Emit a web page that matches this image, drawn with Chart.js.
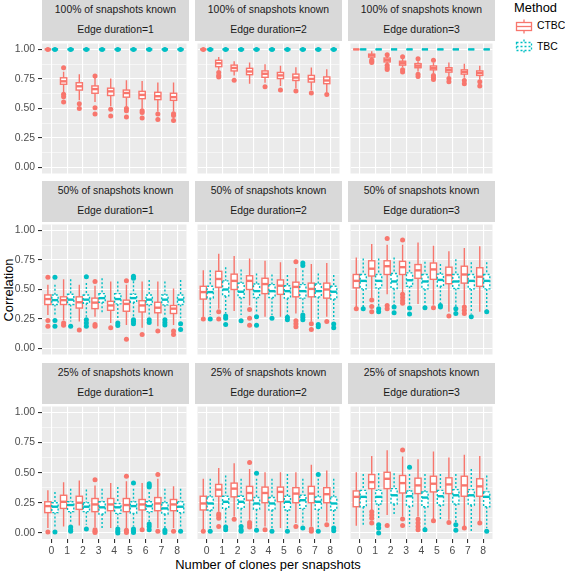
<!DOCTYPE html>
<html>
<head>
<meta charset="utf-8">
<script src="https://cdn.jsdelivr.net/npm/chart.js@4.4.1/dist/chart.umd.min.js"></script>
<style>
    html, body { margin: 0; padding: 0; background: #fff; }
    #fig { position: relative; width: 565px; height: 571px; overflow: hidden; font-family: 'Liberation Sans', Arial, sans-serif; }
    .strip { position: absolute; background: #D9D9D9; color: #1A1A1A; font-size: 10.4px; }
    .strip div { position: absolute; left: 0; right: 0; text-align: center; line-height: 12px; white-space: nowrap; }
    canvas { position: absolute; }
    .title { position: absolute; font-size: 12.9px; color: #000; white-space: nowrap; }
    .legend-label { position: absolute; font-size: 10.4px; color: #000; line-height: 12px; }
    .legend-key { position: absolute; }
</style>
</head>
<body>
<div id="fig">
    <div class="title" style="left:268px; top:564px; transform:translate(-50%,-50%);">Number of clones per snapshots</div>
    <div class="title" style="left:8px; top:290px; transform:translate(-50%,-50%) rotate(-90deg);">Correlation</div>
    <div class="title" style="left:514px; top:0px;">Method</div>
    <svg class="legend-key" style="left:515px; top:18px;" width="18" height="17">
        <line x1="9" y1="1.5" x2="9" y2="4.5" stroke="#F8766D" stroke-width="1.3"/>
        <line x1="9" y1="12.5" x2="9" y2="15.5" stroke="#F8766D" stroke-width="1.3"/>
        <rect x="1.5" y="4.5" width="15" height="8" fill="#fff" stroke="#F8766D" stroke-width="1.3"/>
        <line x1="1.5" y1="8.5" x2="16.5" y2="8.5" stroke="#F8766D" stroke-width="1.3"/>
    </svg>
    <div class="legend-label" style="left:537px; top:20px;">CTBC</div>
    <svg class="legend-key" style="left:515px; top:38px;" width="18" height="17">
        <line x1="9" y1="1.5" x2="9" y2="4.5" stroke="#00BFC4" stroke-width="1.3" stroke-dasharray="2,2"/>
        <line x1="9" y1="12.5" x2="9" y2="15.5" stroke="#00BFC4" stroke-width="1.3" stroke-dasharray="2,2"/>
        <rect x="1.5" y="4.5" width="15" height="8" fill="#fff" stroke="#00BFC4" stroke-width="1.3" stroke-dasharray="2,2"/>
        <line x1="1.5" y1="8.5" x2="16.5" y2="8.5" stroke="#00BFC4" stroke-width="1.3" stroke-dasharray="2,2"/>
    </svg>
    <div class="legend-label" style="left:537px; top:41px;">TBC</div>
</div>
<script>
const clones = [0, 1, 2, 3, 4, 5, 6, 7, 8];
const yTicks = [0, 0.25, 0.5, 0.75, 1];
const knownLabels = ['100% of snapshots known', '50% of snapshots known', '25% of snapshots known'];
const durationLabels = ['Edge duration=1', 'Edge duration=2', 'Edge duration=3'];
const methods = ['CTBC', 'TBC'];
const methodColors = ['#F8766D', '#00BFC4'];

// each box: [lower whisker, q1, median, q3, upper whisker], one per clone count
const ctbc_100_1 = [[1, 1, 1, 1, 1], [0.64, 0.705, 0.73, 0.76, 0.81], [0.57, 0.656, 0.688, 0.718, 0.79], [0.556, 0.629, 0.664, 0.691, 0.76], [0.52, 0.61, 0.645, 0.672, 0.753], [0.515, 0.596, 0.631, 0.656, 0.74], [0.5, 0.583, 0.615, 0.645, 0.732], [0.474, 0.575, 0.604, 0.637, 0.72], [0.474, 0.569, 0.596, 0.629, 0.72]];
const ctbcOut_100_1 = [[1], [0.845, 0.62, 0.6, 0.555], [0.54, 0.5], [0.775, 0.507, 0.453], [0.493, 0.436], [0.499, 0.48, 0.428], [0.482, 0.466, 0.42], [0.453, 0.406], [0.455, 0.44, 0.398]];
const tbc_100_1 = [[1, 1, 1, 1, 1], [1, 1, 1, 1, 1], [1, 1, 1, 1, 1], [1, 1, 1, 1, 1], [1, 1, 1, 1, 1], [1, 1, 1, 1, 1], [1, 1, 1, 1, 1], [1, 1, 1, 1, 1], [1, 1, 1, 1, 1]];
const tbcOut_100_1 = [[1], [1], [1], [1], [1], [1], [1], [1], [1]];

const ctbc_100_2 = [[1, 1, 1, 1, 1], [0.827, 0.854, 0.883, 0.908, 0.935], [0.78, 0.818, 0.843, 0.867, 0.9], [0.71, 0.786, 0.813, 0.84, 0.89], [0.718, 0.764, 0.794, 0.818, 0.875], [0.69, 0.753, 0.78, 0.805, 0.862], [0.672, 0.737, 0.762, 0.791, 0.85], [0.656, 0.724, 0.75, 0.78, 0.846], [0.637, 0.71, 0.737, 0.767, 0.832]];
const ctbcOut_100_2 = [[1], [0.805, 0.78, 0.767], [0.74], [], [0.683], [0.656], [0.648], [0.631], [0.618]];
const tbc_100_2 = [[1, 1, 1, 1, 1], [1, 1, 1, 1, 1], [1, 1, 1, 1, 1], [1, 1, 1, 1, 1], [1, 1, 1, 1, 1], [1, 1, 1, 1, 1], [1, 1, 1, 1, 1], [1, 1, 1, 1, 1], [1, 1, 1, 1, 1]];
const tbcOut_100_2 = [[1], [1], [1], [1], [1], [1], [1], [1], [1]];

const ctbc_100_3 = [[1, 1, 1, 1, 1], [0.92, 0.935, 0.95, 0.96, 0.985], [0.88, 0.894, 0.91, 0.927, 0.943], [0.85, 0.867, 0.883, 0.9, 0.92], [0.813, 0.845, 0.862, 0.88, 0.9], [0.8, 0.827, 0.843, 0.86, 0.89], [0.772, 0.808, 0.827, 0.845, 0.89], [0.76, 0.791, 0.81, 0.827, 0.878], [0.745, 0.78, 0.8, 0.818, 0.862]];
const ctbcOut_100_3 = [[], [0.91, 0.9, 0.89], [0.955, 0.867, 0.845, 0.83], [0.938, 0.827, 0.808], [0.92, 0.79, 0.77], [0.908, 0.78, 0.764, 0.745], [0.753, 0.726], [0.737, 0.71], [0.726, 0.69]];
const tbc_100_3 = [[1, 1, 1, 1, 1], [1, 1, 1, 1, 1], [1, 1, 1, 1, 1], [1, 1, 1, 1, 1], [1, 1, 1, 1, 1], [1, 1, 1, 1, 1], [1, 1, 1, 1, 1], [1, 1, 1, 1, 1], [1, 1, 1, 1, 1]];
const tbcOut_100_3 = [[], [], [], [], [], [], [], [], []];

const ctbc_50_1 = [[0.284, 0.373, 0.419, 0.454, 0.54], [0.24, 0.373, 0.41, 0.438, 0.586], [0.23, 0.343, 0.392, 0.438, 0.54], [0.27, 0.338, 0.389, 0.427, 0.532], [0.216, 0.324, 0.365, 0.4, 0.568], [0.2, 0.316, 0.378, 0.41, 0.54], [0.176, 0.31, 0.365, 0.405, 0.568], [0.19, 0.303, 0.346, 0.392, 0.568], [0.2, 0.297, 0.338, 0.365, 0.508]];
const ctbcOut_50_1 = [[0.603, 0.238, 0.19], [0.216, 0.197], [0.157], [0.568, 0.203, 0.19], [0.176], [0.573, 0.08], [0.12], [0.149], [0.149, 0.12]];
const tbc_50_1 = [[0.284, 0.373, 0.41, 0.454, 0.54], [0.23, 0.373, 0.414, 0.46, 0.586], [0.27, 0.384, 0.414, 0.454, 0.554], [0.297, 0.392, 0.427, 0.465, 0.595], [0.243, 0.378, 0.419, 0.465, 0.568], [0.27, 0.392, 0.427, 0.46, 0.57], [0.27, 0.373, 0.414, 0.454, 0.58], [0.27, 0.37, 0.414, 0.454, 0.568], [0.257, 0.373, 0.414, 0.454, 0.58]];
const tbcOut_50_1 = [[0.603, 0.238, 0.19], [0.19], [0.608, 0.243, 0.216, 0.19], [], [0.216, 0.195], [0.613, 0.595, 0.243, 0.23, 0.21], [0.243, 0.22], [0.243, 0.22, 0.2], [0.21, 0.162]];

const ctbc_50_2 = [[0.27, 0.419, 0.478, 0.527, 0.662], [0.338, 0.519, 0.589, 0.654, 0.803], [0.319, 0.5, 0.573, 0.63, 0.784], [0.365, 0.5, 0.573, 0.616, 0.762], [0.27, 0.465, 0.546, 0.595, 0.743], [0.27, 0.459, 0.532, 0.581, 0.73], [0.297, 0.438, 0.522, 0.562, 0.681], [0.23, 0.438, 0.505, 0.554, 0.716], [0.27, 0.427, 0.5, 0.554, 0.724]];
const ctbcOut_50_2 = [[0.251], [0.311, 0.251], [], [0.33, 0.257, 0.197], [], [], [0.735, 0.235, 0.211, 0.184], [0.211, 0.162], [0.23]];
const tbc_50_2 = [[0.284, 0.427, 0.478, 0.527, 0.662], [0.297, 0.446, 0.5, 0.573, 0.689], [0.284, 0.432, 0.481, 0.554, 0.67], [0.297, 0.432, 0.486, 0.546, 0.635], [0.284, 0.432, 0.486, 0.541, 0.627], [0.284, 0.427, 0.486, 0.532, 0.622], [0.297, 0.427, 0.486, 0.541, 0.662], [0.243, 0.438, 0.486, 0.546, 0.635], [0.243, 0.419, 0.481, 0.527, 0.622]];
const tbcOut_50_2 = [[0.251], [0.276, 0.257, 0.203], [0.235], [0.27, 0.197], [0.257], [0.265, 0.243], [0.724, 0.703, 0.284, 0.265, 0.243], [0.203, 0.184], [0.208, 0.176]];

const ctbc_50_3 = [[0.351, 0.514, 0.573, 0.627, 0.77], [0.43, 0.614, 0.676, 0.743, 0.884], [0.459, 0.627, 0.697, 0.743, 0.878], [0.47, 0.627, 0.689, 0.738, 0.878], [0.378, 0.595, 0.662, 0.711, 0.897], [0.37, 0.586, 0.67, 0.724, 0.87], [0.311, 0.549, 0.622, 0.689, 0.824], [0.37, 0.554, 0.627, 0.697, 0.851], [0.311, 0.527, 0.608, 0.684, 0.865]];
const ctbcOut_50_3 = [[0.338], [0.411, 0.357, 0.311], [0.932, 0.365, 0.338], [0.919, 0.459, 0.432, 0.405, 0.384], [], [0.346], [0.276], [0.351, 0.324, 0.297], []];
const tbc_50_3 = [[0.351, 0.505, 0.573, 0.627, 0.762], [0.351, 0.514, 0.573, 0.627, 0.762], [0.365, 0.508, 0.568, 0.635, 0.77], [0.365, 0.527, 0.578, 0.641, 0.735], [0.365, 0.505, 0.568, 0.627, 0.735], [0.378, 0.527, 0.581, 0.63, 0.716], [0.351, 0.508, 0.568, 0.627, 0.757], [0.297, 0.505, 0.573, 0.627, 0.73], [0.33, 0.505, 0.573, 0.627, 0.73]];
const tbcOut_50_3 = [[0.338], [0.338, 0.311], [0.351, 0.303], [0.343, 0.292], [0.346], [0.365, 0.351], [0.338, 0.297], [0.27], [0.311]];

const ctbc_25_1 = [[0.041, 0.169, 0.223, 0.259, 0.354], [0.054, 0.204, 0.259, 0.313, 0.422], [0.063, 0.196, 0.251, 0.305, 0.436], [0.05, 0.177, 0.237, 0.286, 0.395], [0.041, 0.185, 0.237, 0.286, 0.414], [0.041, 0.177, 0.232, 0.286, 0.43], [0.041, 0.191, 0.237, 0.278, 0.414], [0.041, 0.185, 0.245, 0.294, 0.45], [0.041, 0.185, 0.237, 0.278, 0.387]];
const ctbcOut_25_1 = [[0.008], [], [], [0.441, 0.027, 0.014, 0.005], [], [0.471, 0.022, 0.005], [0.027], [0.485, 0.014], [0.014]];
const tbc_25_1 = [[0.041, 0.169, 0.218, 0.251, 0.341], [0.082, 0.177, 0.232, 0.259, 0.368], [0.068, 0.177, 0.218, 0.251, 0.36], [0.041, 0.158, 0.213, 0.259, 0.368], [0.054, 0.163, 0.213, 0.245, 0.381], [0.054, 0.163, 0.223, 0.259, 0.368], [0.095, 0.177, 0.223, 0.259, 0.341], [0.041, 0.158, 0.204, 0.251, 0.368], [0.041, 0.169, 0.218, 0.259, 0.368]];
const tbcOut_25_1 = [[0.008], [0.049, 0.027, 0.014], [0.033], [], [0.033, 0.014, 0.0], [0.414, 0.033, 0.019, 0.005], [0.409, 0.395, 0.381, 0.074, 0.054, 0.027], [0.022, 0.005], [0.014]];

const ctbc_25_2 = [[0.027, 0.191, 0.245, 0.305, 0.45], [0.177, 0.305, 0.36, 0.403, 0.54], [0.136, 0.3, 0.368, 0.414, 0.578], [0.109, 0.272, 0.332, 0.387, 0.531], [0.054, 0.251, 0.332, 0.381, 0.504], [0.041, 0.259, 0.341, 0.381, 0.504], [0.082, 0.251, 0.327, 0.376, 0.504], [0.054, 0.251, 0.327, 0.387, 0.567], [0.095, 0.251, 0.322, 0.376, 0.518]];
const ctbcOut_25_2 = [[0.014], [0.158, 0.142, 0.123, 0.054], [0.114], [0.586, 0.087, 0.068, 0.049], [0.027], [], [0.054], [0.033, 0.014], [0.068]];
const tbc_25_2 = [[0.027, 0.191, 0.245, 0.3, 0.45], [0.068, 0.204, 0.259, 0.305, 0.477], [0.068, 0.204, 0.259, 0.305, 0.45], [0.054, 0.196, 0.245, 0.294, 0.45], [0.041, 0.191, 0.245, 0.294, 0.45], [0.041, 0.191, 0.259, 0.305, 0.49], [0.068, 0.204, 0.272, 0.313, 0.45], [0.041, 0.196, 0.259, 0.3, 0.45], [0.068, 0.191, 0.245, 0.3, 0.45]];
const tbcOut_25_2 = [[0.014], [0.049, 0.027], [0.054, 0.027, 0.014], [0.496, 0.022], [0.014], [0.014], [0.041], [0.485, 0.014], [0.041, 0.019]];

const ctbc_25_3 = [[0.06, 0.218, 0.3, 0.349, 0.504], [0.19, 0.368, 0.422, 0.485, 0.64], [0.15, 0.368, 0.45, 0.504, 0.687], [0.136, 0.332, 0.414, 0.477, 0.635], [0.136, 0.327, 0.395, 0.455, 0.613], [0.109, 0.341, 0.409, 0.471, 0.676], [0.109, 0.327, 0.403, 0.458, 0.627], [0.054, 0.305, 0.395, 0.471, 0.649], [0.095, 0.305, 0.387, 0.45, 0.64]];
const ctbcOut_25_3 = [[], [0.177, 0.15, 0.123, 0.082], [0.063], [0.689, 0.117, 0.063], [0.114, 0.082, 0.054, 0.027], [0.101], [0.087], [0.041], [0.082]];
const tbc_25_3 = [[0.068, 0.218, 0.3, 0.354, 0.49], [0.109, 0.24, 0.3, 0.354, 0.496], [0.15, 0.24, 0.313, 0.368, 0.496], [0.054, 0.223, 0.305, 0.349, 0.49], [0.041, 0.218, 0.294, 0.341, 0.49], [0.109, 0.232, 0.305, 0.354, 0.49], [0.082, 0.24, 0.313, 0.36, 0.49], [0.005, 0.232, 0.313, 0.36, 0.531], [0.041, 0.218, 0.3, 0.341, 0.477]];
const tbcOut_25_3 = [[], [0.068, 0.041, 0.0], [], [0.545], [0.027], [], [0.068, 0.022], [], [0.014]];

// panels in reading order: rows = share of snapshots known, cols = edge duration
const panelData = [
    [[ctbc_100_1, ctbcOut_100_1, tbc_100_1, tbcOut_100_1], [ctbc_100_2, ctbcOut_100_2, tbc_100_2, tbcOut_100_2], [ctbc_100_3, ctbcOut_100_3, tbc_100_3, tbcOut_100_3]],
    [[ctbc_50_1, ctbcOut_50_1, tbc_50_1, tbcOut_50_1], [ctbc_50_2, ctbcOut_50_2, tbc_50_2, tbcOut_50_2], [ctbc_50_3, ctbcOut_50_3, tbc_50_3, tbcOut_50_3]],
    [[ctbc_25_1, ctbcOut_25_1, tbc_25_1, tbcOut_25_1], [ctbc_25_2, ctbcOut_25_2, tbc_25_2, tbcOut_25_2], [ctbc_25_3, ctbcOut_25_3, tbc_25_3, tbcOut_25_3]]
];

// layout of the facet grid (px)
const colLeft = [42, 195, 348];
const rowTop = [0, 181, 363];
const stripH = 41;
const plotW = 147;
const plotH = 135;
const axisW = 42;
const axisH = 20;
const dodge = 0.225;
const boxHalf = 0.2;

const yGrid = [];
yTicks.forEach((v, i) => {
    yGrid.push(v);
    if (i < yTicks.length - 1) yGrid.push((v + yTicks[i + 1]) / 2);
});

const fig = document.getElementById('fig');

for (let r = 0; r < 3; r++) {
    for (let c = 0; c < 3; c++) {
        addStrip(r, c);
        createPanel(r, c);
    }
}

function addStrip(r, c) {
    const strip = document.createElement('div');
    strip.className = 'strip';
    strip.style.left = colLeft[c] + 'px';
    strip.style.top = rowTop[r] + 'px';
    strip.style.width = plotW + 'px';
    strip.style.height = stripH + 'px';
    strip.innerHTML = `<div style="top:4px">${knownLabels[r]}</div><div style="top:24px">${durationLabels[c]}</div>`;
    fig.appendChild(strip);
}

function outlierPoints(outs, offset) {
    const pts = [];
    outs.forEach((vals, i) => vals.forEach(v => pts.push({ x: clones[i] + offset, y: v })));
    return pts;
}

function boxPlugin(series) {
    return {
        id: 'boxes',
        beforeDraw(chart) {
            const a = chart.chartArea;
            chart.ctx.save();
            chart.ctx.fillStyle = '#EBEBEB';
            chart.ctx.fillRect(a.left, a.top, a.right - a.left, a.bottom - a.top);
            chart.ctx.restore();
        },
        beforeDatasetsDraw(chart) {
            const { ctx, scales: { x, y } } = chart;
            const half = x.getPixelForValue(boxHalf) - x.getPixelForValue(0);
            ctx.save();
            series.forEach((boxes, m) => {
                const off = m === 0 ? -dodge : dodge;
                ctx.strokeStyle = methodColors[m];
                boxes.forEach((b, i) => {
                    const cx = x.getPixelForValue(clones[i] + off);
                    const [lo, q1, med, q3, hi] = b.map(v => y.getPixelForValue(v));
                    ctx.lineWidth = 1.4;
                    ctx.setLineDash(m === 1 ? [2, 2] : []);
                    ctx.beginPath();
                    ctx.moveTo(cx, hi); ctx.lineTo(cx, q3);
                    ctx.moveTo(cx, q1); ctx.lineTo(cx, lo);
                    ctx.stroke();
                    ctx.fillStyle = '#fff';
                    ctx.fillRect(cx - half, q3, 2 * half, q1 - q3);
                    ctx.strokeRect(cx - half, q3, 2 * half, q1 - q3);
                    ctx.setLineDash([]);
                    ctx.lineWidth = 2.4;
                    ctx.beginPath();
                    ctx.moveTo(cx - half, med); ctx.lineTo(cx + half, med);
                    ctx.stroke();
                });
            });
            ctx.restore();
        }
    };
}

function createPanel(r, c) {
    const [ctbc, ctbcOut, tbc, tbcOut] = panelData[r][c];
    const left = c === 0;
    const bottom = r === 2;
    const canvas = document.createElement('canvas');
    const w = plotW + (left ? axisW : 0);
    const h = plotH + (bottom ? axisH : 0);
    canvas.width = w;
    canvas.height = h;
    canvas.style.left = (colLeft[c] - (left ? axisW : 0)) + 'px';
    canvas.style.top = (rowTop[r] + stripH) + 'px';
    canvas.style.width = w + 'px';
    canvas.style.height = h + 'px';
    fig.appendChild(canvas);

    const tickFont = { family: "'Liberation Sans', Arial, sans-serif", size: 10.4 };

    new Chart(canvas.getContext('2d'), {
        type: 'scatter',
        data: {
            datasets: [
                {
                    label: methods[0],
                    data: outlierPoints(ctbcOut, -dodge),
                    backgroundColor: methodColors[0],
                    pointRadius: 2.5,
                    pointBorderWidth: 0,
                    pointHoverRadius: 2.5
                },
                {
                    label: methods[1],
                    data: outlierPoints(tbcOut, dodge),
                    backgroundColor: methodColors[1],
                    pointRadius: 2.5,
                    pointBorderWidth: 0,
                    pointHoverRadius: 2.5
                }
            ]
        },
        options: {
            responsive: false,
            animation: false,
            events: [],
            layout: { padding: 0 },
            plugins: {
                legend: { display: false },
                tooltip: { enabled: false }
            },
            scales: {
                x: {
                    type: 'linear',
                    min: -0.6,
                    max: 8.6,
                    afterBuildTicks: s => { s.ticks = clones.map(v => ({ value: v })); },
                    afterFit: s => {
                        s.height = bottom ? axisH : 0;
                        s.paddingLeft = 0; s.paddingRight = 0; s.paddingTop = 0; s.paddingBottom = 0;
                    },
                    border: { display: false },
                    grid: {
                        color: '#FFFFFF',
                        lineWidth: 1.1,
                        drawTicks: bottom,
                        tickLength: 4,
                        tickColor: '#333333',
                        tickWidth: 1.1
                    },
                    ticks: {
                        display: bottom,
                        padding: 2,
                        color: '#4D4D4D',
                        font: tickFont,
                        maxRotation: 0,
                        autoSkip: false,
                        callback: v => String(v)
                    }
                },
                y: {
                    min: -0.05,
                    max: 1.05,
                    afterBuildTicks: s => { s.ticks = yGrid.map(v => ({ value: v })); },
                    afterFit: s => {
                        s.width = left ? axisW : 0;
                        s.paddingLeft = 0; s.paddingRight = 0; s.paddingTop = 0; s.paddingBottom = 0;
                    },
                    border: { display: false },
                    grid: {
                        color: '#FFFFFF',
                        lineWidth: ctx => yTicks.includes(ctx.tick.value) ? 1.1 : 0.55,
                        drawTicks: left,
                        tickLength: 4,
                        tickColor: ctx => yTicks.includes(ctx.tick.value) ? '#333333' : 'rgba(0,0,0,0)',
                        tickWidth: 1.1
                    },
                    ticks: {
                        display: left,
                        padding: 3,
                        color: '#4D4D4D',
                        font: tickFont,
                        autoSkip: false,
                        callback: v => yTicks.includes(v) ? v.toFixed(2) : ''
                    }
                }
            }
        },
        plugins: [boxPlugin([ctbc, tbc])]
    });
}
</script>
</body>
</html>
